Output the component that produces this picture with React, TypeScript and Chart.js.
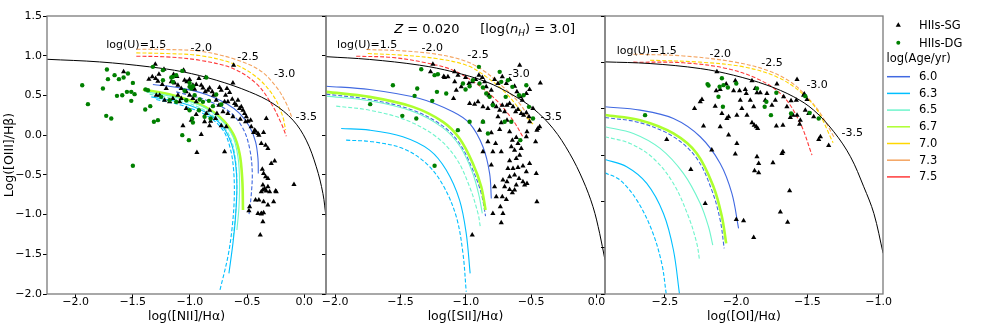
import React, { useEffect, useRef } from 'react';
import { Chart, registerables } from 'chart.js';

Chart.register(...registerables);

type Pt = [number, number];

const W = 981;
const H = 327;
const FAM = '"DejaVu Sans", sans-serif';

// ---------- ages / colours ----------
const AGES = ['6.0', '6.3', '6.5', '6.7', '7.0', '7.3', '7.5'];
const AGE_COLORS = ['#4169e1', '#00bfff', '#6ff5cc', '#adff2f', '#ffd700', '#f4a460', '#ff3a3a'];

// ---------- ticks ----------
const Y_TICKS_A = [-2.0, -1.5, -1.0, -0.5, 0.0, 0.5, 1.0, 1.5];
const Y_TICKS_C = [-1.5, -1.0, -0.5, 0.0, 0.5, 1.0, 1.5];
const X_TICKS_NII = [-2.0, -1.5, -1.0, -0.5, 0.0];
const X_TICKS_SII = [-2.0, -1.5, -1.0, -0.5, 0.0];
const X_TICKS_OI = [-2.5, -2.0, -1.5, -1.0];

// ---------- panel 1 : [NII] ----------
const NII_SG: Pt[] = [
  [-1.303,0.893],[-1.329,0.734],[-1.300,0.713],[-1.280,0.679],[-1.227,0.830],[-1.163,0.671],[-1.134,0.658],[-1.105,0.629],
  [-1.055,0.818],[-1.047,0.692],[-1.026,0.671],[-1.003,0.700],[-0.974,0.629],[-0.959,0.579],[-0.945,0.637],[-0.921,0.713],
  [-0.901,0.629],[-0.886,0.595],[-0.866,0.545],[-0.843,0.566],[-0.828,0.595],[-0.805,0.545],[-0.793,0.503],[-0.770,0.440],
  [-0.741,0.600],[-0.726,0.566],[-0.688,0.503],[-0.676,0.587],[-0.668,0.419],[-0.653,0.537],[-0.630,0.453],[-0.609,0.398],
  [-0.595,0.377],[-0.580,0.440],[-0.566,0.335],[-0.551,0.356],[-0.536,0.314],[-0.522,0.273],[-0.507,0.231],[-0.560,0.201],
  [-0.513,0.168],[-0.493,0.176],[-0.464,0.105],[-0.443,0.034],[-0.426,0.050],[-0.405,0.021],[-0.397,0.000],[-0.356,0.034],
  [-0.376,-0.105],[-0.338,-0.126],[-0.318,-0.168],[-0.289,-0.356],[-0.259,-0.327],[-0.367,-0.428],[-0.356,-0.482],[-0.338,-0.524],
  [-0.318,-0.545],[-0.362,-0.629],[-0.347,-0.671],[-0.332,-0.704],[-0.303,-0.713],[-0.251,-0.704],[-0.376,-0.713],[-0.397,-0.818],
  [-0.356,-0.839],[-0.318,-0.881],[-0.478,-0.901],[-0.405,-0.985],[-0.376,-0.985],[-0.090,-0.621],[-0.697,-0.210],[-0.939,-0.218],
  [-0.828,0.117],[-0.901,0.008],[-1.061,0.117],[-0.988,0.189],[-0.945,0.260],[-1.032,0.335],[-1.090,0.419],[-1.149,0.461],
  [-1.178,0.419],[-1.222,0.440],[-1.076,0.461],[-1.105,0.503],[-0.726,0.117],[-0.682,0.105],[-0.764,0.273],[-0.776,0.210],
  [-0.624,0.231],[-0.668,0.273],[-0.711,0.294],[-0.872,0.168],[-0.819,0.176],[-0.857,0.273],[-0.828,0.314],[-0.746,0.377],
  [-0.618,0.881],[-1.032,0.545],[-1.003,0.503],[-0.974,0.461],[-0.945,0.419],[-1.076,0.587],[-1.207,0.587],[-1.265,0.503],
  [-1.242,0.637],[-1.143,0.763],[-1.114,0.738],[-1.294,0.503],[-1.580,0.797],[-1.359,0.704],[-1.271,0.767],[-0.484,-0.952],
  [-0.426,-0.818],[-0.362,-0.692],[-0.318,-0.650],[-0.245,-0.713],[-0.268,-0.839],[-0.356,-0.977],[-0.376,-0.994],[-0.362,-1.090],
  [-0.385,-1.258],[-0.863,0.725],[-0.624,0.658],[-0.469,0.189],[-0.332,0.210],[-0.434,0.063],[-0.697,0.419]
];
const NII_DG: Pt[] = [
  [-1.942,0.629],[-1.892,0.390],[-1.761,0.587],[-1.726,0.826],[-1.717,0.705],[-1.688,0.210],[-1.732,0.243],[-1.659,0.755],
  [-1.621,0.705],[-1.580,0.725],[-1.542,0.776],[-1.638,0.495],[-1.592,0.503],[-1.551,0.545],[-1.513,0.545],[-1.484,0.516],
  [-1.513,0.432],[-1.499,0.658],[-1.391,0.323],[-1.347,0.365],[-1.315,0.168],[-1.280,0.189],[-1.388,0.574],[-1.367,0.566],
  [-1.499,-0.386],[-1.324,0.860],[-1.236,0.818],[-1.163,0.725],[-1.149,0.671],[-1.120,0.755],[-1.067,0.809],[-1.003,0.658],
  [-0.974,0.616],[-0.988,0.587],[-1.047,0.558],[-0.959,0.503],[-0.915,0.449],[-0.886,0.419],[-0.980,0.210],[-1.003,0.314],
  [-0.921,0.314],[-1.067,0.000],[-1.009,-0.063],[-1.236,0.692],[-1.251,0.482],[-1.178,0.440],[-1.120,0.419],[-1.032,0.440],
  [-0.834,0.432],[-0.799,0.365],[-1.149,0.734],[-1.003,0.608],[-0.770,0.512],[-0.726,0.386],[-0.872,0.231],[-0.819,0.210],
  [-0.974,0.159],[-0.857,0.725]
];
const NII_MAX: Pt[] = [
  [-2.25,0.955],[-1.790,0.922],[-1.353,0.860],[-1.061,0.797],[-0.770,0.692],[-0.478,0.545],[-0.274,0.398],[-0.099,0.189],
  [0.017,-0.063],[0.105,-0.398],[0.163,-0.734],[0.190,-1.028]
];
const NII_60S: Pt[] = [[-1.324,0.637],[-1.090,0.595],[-0.857,0.512],[-0.682,0.398],[-0.566,0.273],[-0.478,0.105],[-0.426,-0.084],[-0.405,-0.294],[-0.402,-0.482]];
const NII_60D: Pt[] = [[-1.120,0.545],[-0.857,0.440],[-0.653,0.294],[-0.536,0.084],[-0.478,-0.168],[-0.455,-0.461],[-0.464,-0.755],[-0.484,-1.006]];
const NII_67S: Pt[] = [[-1.411,0.574],[-1.149,0.503],[-0.915,0.390],[-0.741,0.231],[-0.624,0.021],[-0.566,-0.231],[-0.542,-0.566],[-0.536,-0.943]];
const NII_65S: Pt[] = [[-1.382,0.545],[-1.120,0.474],[-0.886,0.356],[-0.726,0.189],[-0.624,-0.021],[-0.580,-0.273],[-0.566,-0.566],[-0.571,-0.901],[-0.589,-1.195]];
const NII_65D: Pt[] = [[-1.353,0.516],[-1.090,0.440],[-0.872,0.314],[-0.726,0.147],[-0.638,-0.063],[-0.601,-0.314],[-0.589,-0.608],[-0.601,-0.985],[-0.624,-1.321]];
const NII_63S: Pt[] = [[-1.338,0.482],[-1.076,0.407],[-0.857,0.281],[-0.717,0.113],[-0.638,-0.105],[-0.601,-0.356],[-0.589,-0.650],[-0.601,-1.027],[-0.624,-1.363],[-0.659,-1.740]];
const NII_63D: Pt[] = [[-1.294,0.449],[-1.047,0.365],[-0.843,0.239],[-0.711,0.063],[-0.647,-0.168],[-0.618,-0.440],[-0.612,-0.776],[-0.630,-1.153],[-0.668,-1.530],[-0.741,-1.971]];
const NII_73: Pt[] = [[-1.469,1.082],[-1.207,1.078],[-0.915,1.057],[-0.624,0.964],[-0.391,0.818],[-0.245,0.608],[-0.157,0.398],[-0.105,0.210]];
const NII_70: Pt[] = [[-1.469,1.036],[-1.207,1.027],[-0.915,1.002],[-0.624,0.901],[-0.420,0.734],[-0.274,0.503],[-0.192,0.252],[-0.163,0.063]];
const NII_75: Pt[] = [[-1.469,0.994],[-1.207,0.985],[-0.915,0.943],[-0.624,0.839],[-0.420,0.650],[-0.289,0.398],[-0.201,0.147],[-0.157,-0.013]];

// ---------- panel 2 : [SII] ----------
const SII_SG: Pt[] = [
  [-1.252,0.893],[-1.163,0.725],[-1.137,0.734],[-1.094,0.461],[-1.085,0.671],[-1.073,0.566],[-1.035,0.608],[-1.002,0.725],
  [-0.976,0.650],[-0.951,0.671],[-0.925,0.700],[-0.900,0.755],[-0.874,0.725],[-0.856,0.671],[-0.844,0.608],[-0.823,0.503],
  [-0.805,0.566],[-0.780,0.700],[-0.754,0.650],[-0.721,0.734],[-0.690,0.650],[-0.665,0.700],[-0.627,0.616],[-0.609,0.545],
  [-0.588,0.881],[-0.583,0.482],[-0.568,0.440],[-0.537,0.524],[-0.512,0.574],[-0.486,0.335],[-0.430,0.658],[-0.448,0.084],
  [-0.971,0.398],[-0.933,0.390],[-0.907,0.419],[-0.869,0.356],[-0.831,0.335],[-0.793,0.398],[-0.767,0.356],[-0.741,0.314],
  [-0.721,0.377],[-0.703,0.294],[-0.685,0.377],[-0.665,0.398],[-0.639,0.356],[-0.619,0.294],[-0.601,0.323],[-0.576,0.273],
  [-0.558,0.252],[-0.537,0.281],[-0.517,0.231],[-0.512,0.168],[-0.532,0.042],[-0.466,-0.084],[-0.456,0.063],[-0.435,0.105],
  [-0.754,0.231],[-0.729,0.155],[-0.685,0.189],[-0.741,0.071],[-0.665,0.042],[-0.644,-0.063],[-0.614,-0.029],[-0.601,-0.105],
  [-0.652,-0.147],[-0.627,-0.189],[-0.576,-0.168],[-0.588,-0.252],[-0.614,-0.294],[-0.665,-0.323],[-0.678,-0.419],[-0.639,-0.419],
  [-0.601,-0.407],[-0.563,-0.390],[-0.537,-0.461],[-0.512,-0.356],[-0.665,-0.524],[-0.627,-0.503],[-0.593,-0.545],[-0.563,-0.587],
  [-0.532,-0.608],[-0.461,-0.482],[-0.703,-0.650],[-0.665,-0.683],[-0.644,-0.725],[-0.627,-0.692],[-0.721,-0.776],[-0.690,-0.809],
  [-0.736,-0.901],[-0.716,-0.985],[-0.729,-1.103],[-0.780,-0.650],[-0.767,-0.776],[-0.793,-0.985],[-0.805,-0.377],[-0.869,-0.210],
  [-0.793,-0.210],[-0.729,-0.210],[-0.895,0.063],[-0.869,0.168],[-0.716,-0.566],[-0.685,-0.587],[-0.614,-0.629],[-0.550,-0.629],
  [-0.456,-0.839],[-0.951,-1.258],[-0.537,-0.021],[-0.772,-0.105],[-0.831,-0.084],[-0.805,0.029],[-1.270,0.797],[-1.169,0.738],
  [-1.086,0.797],[-1.060,0.755]
];
const SII_DG: Pt[] = [
  [-1.221,0.545],[-1.150,0.524],[-1.257,0.432],[-1.022,0.650],[-1.002,0.574],[-0.971,0.616],[-0.946,0.692],[-0.900,0.860],
  [-0.895,0.650],[-0.869,0.600],[-0.844,0.524],[-0.818,0.482],[-0.793,0.377],[-0.741,0.797],[-0.729,0.671],[-0.695,0.482],
  [-0.678,0.692],[-0.644,0.608],[-0.652,0.168],[-0.703,0.168],[-0.593,0.503],[-0.558,0.503],[-0.537,0.629],[-0.583,-0.063],
  [-0.869,0.168],[-0.971,0.168],[-0.831,0.021],[-1.061,0.063],[-0.486,0.210],[-0.517,0.356],[-1.558,0.629],[-1.372,0.587],
  [-1.392,0.495],[-1.732,0.390],[-1.486,0.243],[-1.379,0.210],[-1.239,-0.386],[-1.341,0.830],[-1.239,0.755],[-1.214,0.767]
];
const SII_MAX: Pt[] = [
  [-2.07,0.988],[-1.737,0.953],[-1.354,0.881],[-1.099,0.797],[-0.843,0.671],[-0.639,0.504],[-0.486,0.337],[-0.333,0.085],
  [-0.206,-0.229],[-0.104,-0.565],[-0.027,-0.901],[0.024,-1.236],[0.065,-1.573]
];
const SII_60S: Pt[] = [[-2.069,0.616],[-1.737,0.574],[-1.354,0.461],[-1.099,0.294],[-0.971,0.147],[-0.869,-0.147],[-0.818,-0.482],[-0.805,-0.797]];
const SII_67S: Pt[] = [[-2.069,0.545],[-1.737,0.482],[-1.405,0.356],[-1.175,0.168],[-1.048,-0.042],[-0.946,-0.356],[-0.882,-0.650],[-0.849,-0.943]];
const SII_60D: Pt[] = [[-2.069,0.516],[-1.737,0.449],[-1.405,0.314],[-1.175,0.113],[-1.048,-0.105],[-0.946,-0.440],[-0.882,-0.734],[-0.849,-1.019]];
const SII_65S: Pt[] = [[-2.069,0.491],[-1.737,0.432],[-1.405,0.298],[-1.175,0.092],[-1.048,-0.134],[-0.951,-0.461],[-0.900,-0.755],[-0.874,-0.985]];
const SII_65D: Pt[] = [[-1.992,0.365],[-1.737,0.314],[-1.456,0.189],[-1.226,-0.021],[-1.073,-0.294],[-0.971,-0.650],[-0.907,-0.985],[-0.890,-1.145]];
const SII_63S: Pt[] = [[-1.954,0.084],[-1.737,0.063],[-1.482,-0.021],[-1.277,-0.189],[-1.150,-0.440],[-1.048,-0.818],[-0.997,-1.237],[-0.967,-1.740]];
const SII_63D: Pt[] = [[-1.916,-0.063],[-1.712,-0.084],[-1.482,-0.168],[-1.303,-0.356],[-1.175,-0.629],[-1.073,-1.027],[-1.022,-1.488],[-0.997,-1.971]];
const SII_73: Pt[] = [[-1.762,1.078],[-1.481,1.061],[-1.226,1.019],[-1.022,0.943],[-0.869,0.818],[-0.716,0.608],[-0.588,0.398],[-0.499,0.168]];
const SII_70: Pt[] = [[-1.750,1.027],[-1.481,1.006],[-1.226,0.964],[-0.996,0.881],[-0.843,0.734],[-0.690,0.524],[-0.563,0.273],[-0.486,0.138]];
const SII_75: Pt[] = [[-1.839,0.994],[-1.558,0.977],[-1.303,0.910],[-1.099,0.818],[-0.920,0.650],[-0.767,0.440],[-0.640,0.189],[-0.563,-0.021]];

// ---------- panel 3 : [OI] ----------
const OI_SG: Pt[] = [
  [-2.135,0.898],[-2.112,0.707],[-2.140,0.693],[-2.070,0.765],[-2.006,0.801],[-2.018,0.693],[-1.976,0.693],[-1.936,0.707],
  [-1.929,0.664],[-1.889,0.801],[-1.866,0.718],[-1.854,0.671],[-1.831,0.671],[-1.784,0.664],[-1.714,0.765],[-1.573,0.815],
  [-1.522,0.657],[-1.578,0.592],[-2.240,0.599],[-2.252,0.574],[-2.292,0.502],[-2.147,0.527],[-2.100,0.448],[-2.053,0.412],
  [-2.065,0.394],[-1.995,0.430],[-1.960,0.502],[-1.924,0.430],[-1.889,0.348],[-1.873,0.322],[-1.859,0.304],[-1.849,0.286],
  [-1.971,0.592],[-1.901,0.592],[-1.877,0.520],[-1.796,0.592],[-1.749,0.538],[-1.725,0.592],[-1.667,0.628],[-1.644,0.520],
  [-1.620,0.405],[-1.573,0.430],[-1.550,0.376],[-1.672,0.322],[-1.718,0.312],[-2.053,0.215],[-1.995,0.125],[-2.006,0.010],
  [-2.171,0.053],[-2.229,0.312],[-2.112,0.304],[-1.854,-0.019],[-1.842,-0.091],[-1.871,-0.170],[-1.842,-0.192],[-1.742,-0.084],
  [-1.672,0.035],[-1.679,0.017],[-1.625,-0.386],[-1.690,-0.616],[-1.639,-0.727],[-1.877,-0.889],[-1.999,-0.695],[-1.948,-0.709],
  [-2.318,-0.156],[-2.217,-0.523],[-2.487,0.168],[-1.421,0.168],[-1.409,0.197],[-1.351,0.103],[-1.456,0.412],[-1.491,0.448],
  [-1.555,0.333],[-1.601,0.430],[-1.615,0.585],[-1.527,0.646],[-1.515,0.484],[-1.503,0.599]
];
const OI_DG: Pt[] = [
  [-2.639,0.430],[-2.201,0.765],[-2.194,0.750],[-2.100,0.829],[-2.116,0.736],[-2.089,0.754],[-2.058,0.729],[-1.999,0.772],
  [-2.124,0.628],[-2.093,0.520],[-1.854,0.718],[-1.788,0.574],[-1.800,0.520],[-1.718,0.671],[-1.756,0.430],[-1.615,0.448],
  [-1.515,0.635],[-1.484,0.455],[-1.421,0.394]
];
const OI_MAX: Pt[] = [
  [-2.92,1.005],[-2.604,0.987],[-2.252,0.933],[-2.018,0.861],[-1.784,0.754],[-1.596,0.628],[-1.456,0.484],[-1.315,0.251],
  [-1.198,-0.019],[-1.105,-0.343],[-1.034,-0.631],[-0.969,-1.061]
];
const OI_60S: Pt[] = [[-2.920,0.520],[-2.674,0.484],[-2.440,0.394],[-2.252,0.197],[-2.112,-0.091],[-2.030,-0.415],[-1.983,-0.792]];
const OI_67S: Pt[] = [[-2.920,0.431],[-2.674,0.376],[-2.440,0.233],[-2.276,0.017],[-2.159,-0.343],[-2.100,-0.667],[-2.070,-0.954]];
const OI_60D: Pt[] = [[-2.920,0.405],[-2.674,0.348],[-2.440,0.197],[-2.276,-0.037],[-2.171,-0.379],[-2.112,-0.702],[-2.084,-1.008]];
const OI_65S: Pt[] = [[-2.920,0.305],[-2.721,0.233],[-2.533,0.071],[-2.370,-0.199],[-2.252,-0.523],[-2.194,-0.774],[-2.164,-0.972]];
const OI_65D: Pt[] = [[-2.920,0.197],[-2.744,0.125],[-2.580,-0.037],[-2.440,-0.307],[-2.334,-0.667],[-2.276,-0.954],[-2.257,-1.133]];
const OI_63S: Pt[] = [[-2.920,-0.048],[-2.768,-0.127],[-2.627,-0.307],[-2.510,-0.631],[-2.440,-1.025],[-2.398,-1.493]];
const OI_63D: Pt[] = [[-2.920,-0.192],[-2.814,-0.271],[-2.697,-0.487],[-2.592,-0.810],[-2.522,-1.169],[-2.491,-1.493]];
const OI_73: Pt[] = [[-2.721,1.088],[-2.370,1.069],[-2.018,1.005],[-1.784,0.915],[-1.620,0.790],[-1.503,0.628],[-1.409,0.448],[-1.315,0.197]];
const OI_70: Pt[] = [[-2.604,1.023],[-2.252,1.002],[-1.948,0.951],[-1.714,0.843],[-1.550,0.682],[-1.432,0.484],[-1.320,0.132]];
const OI_75: Pt[] = [[-2.721,1.002],[-2.370,0.995],[-2.065,0.933],[-1.831,0.808],[-1.667,0.628],[-1.550,0.341],[-1.468,-0.001]];

// ---------- text labels (log U), placed in data coordinates ----------
const U_LABELS = ['log(U)=1.5', '-2.0', '-2.5', '-3.0', '-3.5'];
const NII_U_AT: Pt[] = [[-1.469,1.132],[-0.901,1.099],[-0.493,0.985],[-0.172,0.767],[0.017,0.231]];
const SII_U_AT: Pt[] = [[-1.755,1.132],[-1.257,1.099],[-0.907,1.006],[-0.593,0.767],[-0.346,0.231]];
const OI_U_AT: Pt[] = [[-2.627,1.120],[-2.112,1.088],[-1.749,0.995],[-1.432,0.754],[-1.186,0.233]];
const TITLE_AT: Pt = [-0.856, 1.347];

// ---------- helpers ----------
const toXY = (a: Pt[]) => a.map(([x, y]) => ({ x, y }));
const fmt = (v: number) => (Math.abs(v) < 1e-9 ? '0.0' : v.toFixed(1).replace('-', '\u2212'));

function track(data: Pt[], ageIdx: number, dashed: boolean, width = 1.1) {
  return {
    data: toXY(data),
    showLine: true,
    borderColor: AGE_COLORS[ageIdx],
    borderWidth: width,
    borderDash: dashed ? [4, 2] : [],
    pointRadius: 0,
    tension: 0.35,
    fill: false,
    order: 3,
  };
}
function maxLine(data: Pt[]) {
  return { data: toXY(data), showLine: true, borderColor: '#000', borderWidth: 1, pointRadius: 0, tension: 0.35, fill: false, order: 2 };
}
function sg(data: Pt[]) {
  return { data: toXY(data), showLine: false, pointStyle: 'triangle', pointRadius: 3, backgroundColor: '#000', borderColor: '#000', borderWidth: 0, order: 1 };
}
function dg(data: Pt[]) {
  return { data: toXY(data), showLine: false, pointStyle: 'circle', pointRadius: 2.2, backgroundColor: '#008000', borderColor: '#008000', borderWidth: 0, order: 0 };
}

interface PanelCfg {
  xMin: number; xMax: number; yMin: number; yMax: number;
  xTicks: number[]; yTicks: number[];
  left: number; right: number; showY: boolean;
  xTitle: string; datasets: any[]; uAt: Pt[]; title?: boolean;
}

const AREA_TOP = 16;
const AREA_BOTTOM = 294;

function makeConfig(p: PanelCfg): any {
  const deco = {
    id: 'deco',
    afterDatasetsDraw(chart: any) {
      const { ctx, chartArea: a, scales } = chart;
      ctx.save();
      ctx.strokeStyle = '#7a7a7a';
      ctx.lineWidth = 1.3;
      ctx.strokeRect(a.left, a.top, a.right - a.left, a.bottom - a.top);
      ctx.fillStyle = '#000';
      ctx.font = `11px ${FAM}`;
      ctx.textAlign = 'center';
      ctx.textBaseline = 'middle';
      p.uAt.forEach((pt, i) => {
        ctx.fillText(U_LABELS[i], scales.x.getPixelForValue(pt[0]), scales.y.getPixelForValue(pt[1]));
      });
      if (p.title) {
        const segs = [
          { t: 'Z', f: `italic 13px ${FAM}`, dy: 0 },
          { t: ' = 0.020     [log(', f: `13px ${FAM}`, dy: 0 },
          { t: 'n', f: `italic 13px ${FAM}`, dy: 0 },
          { t: 'H', f: `italic 9px ${FAM}`, dy: 3 },
          { t: ') = 3.0]', f: `13px ${FAM}`, dy: 0 },
        ];
        let total = 0;
        const widths = segs.map((s) => { ctx.font = s.f; const w = ctx.measureText(s.t).width; total += w; return w; });
        let x = scales.x.getPixelForValue(TITLE_AT[0]) - total / 2;
        const y = scales.y.getPixelForValue(TITLE_AT[1]);
        ctx.textAlign = 'left';
        ctx.textBaseline = 'alphabetic';
        segs.forEach((s, i) => { ctx.font = s.f; ctx.fillText(s.t, x, y + 5 + s.dy); x += widths[i]; });
      }
      ctx.restore();
    },
  };
  return {
    type: 'scatter',
    data: { datasets: p.datasets },
    plugins: [deco],
    options: {
      responsive: false,
      animation: false,
      devicePixelRatio: 1,
      events: [],
      layout: { padding: { left: p.showY ? 0 : p.left, right: W - p.right, top: AREA_TOP, bottom: 0 } },
      plugins: { legend: { display: false }, tooltip: { enabled: false } },
      scales: {
        x: {
          type: 'linear',
          min: p.xMin,
          max: p.xMax,
          afterBuildTicks: (s: any) => { s.ticks = p.xTicks.map((v) => ({ value: v })); },
          afterFit: (s: any) => { s.height = H - AREA_BOTTOM; },
          ticks: { callback: (v: any) => fmt(Number(v)), font: { family: FAM, size: 11 }, color: '#000', padding: -2, maxRotation: 0, minRotation: 0, autoSkip: false },
          grid: { display: true, drawOnChartArea: false, drawTicks: true, tickLength: 4, tickColor: '#000', lineWidth: 1 },
          border: { display: false },
          title: { display: true, text: p.xTitle, font: { family: FAM, size: 12.5 }, color: '#000', padding: { top: 0, bottom: 3 } },
        },
        y: {
          type: 'linear',
          min: p.yMin,
          max: p.yMax,
          afterBuildTicks: (s: any) => { s.ticks = p.yTicks.map((v) => ({ value: v })); },
          afterFit: (s: any) => { s.width = p.showY ? p.left : 0; },
          ticks: { display: p.showY, callback: (v: any) => fmt(Number(v)), font: { family: FAM, size: 11 }, color: '#000', padding: 1 },
          grid: { display: true, drawOnChartArea: false, drawTicks: true, tickLength: 4, tickColor: '#000', lineWidth: 1 },
          border: { display: false },
          title: { display: p.showY, text: 'Log([OIII]/H\u03b2)', font: { family: FAM, size: 12.5 }, color: '#000', padding: { top: 2, bottom: 0 } },
        },
      },
    },
  };
}

const PANELS: PanelCfg[] = [
  {
    xMin: -2.25, xMax: 0.19, yMin: -2, yMax: 1.5, xTicks: X_TICKS_NII, yTicks: Y_TICKS_A, left: 47, right: 326, showY: true,
    xTitle: 'log([NII]/H\u03b1)', uAt: NII_U_AT,
    datasets: [
      dg(NII_DG), sg(NII_SG), maxLine(NII_MAX),
      track(NII_63D, 1, true), track(NII_63S, 1, false), track(NII_65D, 2, true), track(NII_65S, 2, false),
      track(NII_67S, 3, false, 2.6), track(NII_60D, 0, true), track(NII_60S, 0, false),
      track(NII_75, 6, true), track(NII_70, 4, true), track(NII_73, 5, true),
    ],
  },
  {
    xMin: -2.07, xMax: 0.065, yMin: -2, yMax: 1.5, xTicks: X_TICKS_SII, yTicks: Y_TICKS_A, left: 326, right: 605, showY: false,
    xTitle: 'log([SII]/H\u03b1)', uAt: SII_U_AT, title: true,
    datasets: [
      dg(SII_DG), sg(SII_SG), maxLine(SII_MAX),
      track(SII_63D, 1, true), track(SII_63S, 1, false), track(SII_65D, 2, true), track(SII_65S, 2, false),
      track(SII_67S, 3, false, 2.6), track(SII_60D, 0, true), track(SII_60S, 0, false),
      track(SII_75, 6, true), track(SII_70, 4, true), track(SII_73, 5, true),
    ],
  },
  {
    xMin: -2.92, xMax: -0.97, yMin: -1.5, yMax: 1.5, xTicks: X_TICKS_OI, yTicks: Y_TICKS_C, left: 605, right: 883, showY: false,
    xTitle: 'log([OI]/H\u03b1)', uAt: OI_U_AT,
    datasets: [
      dg(OI_DG), sg(OI_SG), maxLine(OI_MAX),
      track(OI_63D, 1, true), track(OI_63S, 1, false), track(OI_65D, 2, true), track(OI_65S, 2, false),
      track(OI_67S, 3, false, 2.6), track(OI_60D, 0, true), track(OI_60S, 0, false),
      track(OI_75, 6, true), track(OI_70, 4, true), track(OI_73, 5, true),
    ],
  },
];

const LEG_ROW = 16.7;

function Legend() {
  const txt: React.CSSProperties = { position: 'absolute', fontFamily: FAM, fontSize: 11.5, lineHeight: '14px', height: 14, whiteSpace: 'nowrap', color: '#000' };
  return (
    <div style={{ position: 'absolute', left: 0, top: 0, width: W, height: H, pointerEvents: 'none' }}>
      <svg width={W} height={H} style={{ position: 'absolute', left: 0, top: 0 }}>
        <polygon points="898.3,22.3 900.9,26.8 895.7,26.8" fill="#000" />
        <circle cx={898.3} cy={42.7} r={2} fill="#008000" />
        {AGES.map((a, i) => (
          <line key={a} x1={887} x2={910} y1={76.7 + i * LEG_ROW} y2={76.7 + i * LEG_ROW} stroke={AGE_COLORS[i]} strokeWidth={1.5} />
        ))}
      </svg>
      <div style={{ ...txt, left: 919, top: 25 - 7 }}>HIIs-SG</div>
      <div style={{ ...txt, left: 919, top: 42.7 - 7 }}>HIIs-DG</div>
      <div style={{ ...txt, left: 886.5, top: 58.3 - 7 }}>log(Age/yr)</div>
      {AGES.map((a, i) => (
        <div key={a} style={{ ...txt, left: 919, top: 76 + i * LEG_ROW - 7 }}>{a}</div>
      ))}
    </div>
  );
}

export default function App() {
  const r1 = useRef<HTMLCanvasElement>(null);
  const r2 = useRef<HTMLCanvasElement>(null);
  const r3 = useRef<HTMLCanvasElement>(null);

  useEffect(() => {
    const refs = [r1, r2, r3];
    const charts = refs.map((r, i) => new Chart(r.current as HTMLCanvasElement, makeConfig(PANELS[i])));
    return () => charts.forEach((c) => c.destroy());
  }, []);

  const cs: React.CSSProperties = { position: 'absolute', left: 0, top: 0, width: W, height: H };
  return (
    <div style={{ position: 'fixed', left: 0, top: 0, width: W, height: H, background: '#fff', overflow: 'hidden' }}>
      <canvas ref={r1} width={W} height={H} style={cs} />
      <canvas ref={r2} width={W} height={H} style={cs} />
      <canvas ref={r3} width={W} height={H} style={cs} />
      <Legend />
    </div>
  );
}
